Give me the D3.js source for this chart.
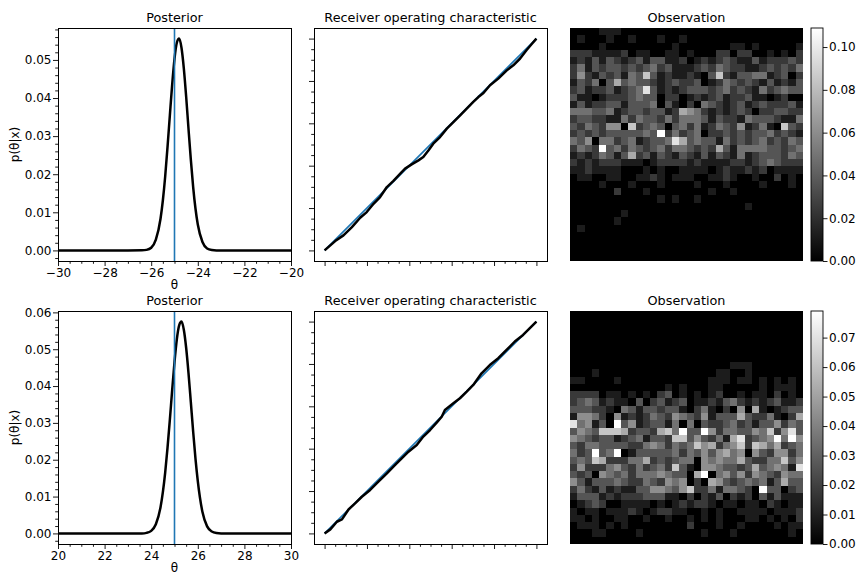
<!DOCTYPE html>
<html>
<head>
<meta charset="utf-8">
<script src="https://cdn.jsdelivr.net/npm/d3@7"></script>
<style>
    body { margin: 0; background: #fff; }
    svg text { font-family: "DejaVu Sans", sans-serif; fill: #000; }
    .tick text { font-size: 12px; }
    .tick line { stroke: #000; stroke-width: 0.9; }
</style>
</head>
<body>
<svg id="fig" width="856" height="575"></svg>
<script>
// ---- data ----

// posterior, top row
const postTopTheta = [-30, -27, -26.4, -26.2, -26.0, -25.8, -25.6, -25.5, -25.4, -25.3, -25.2, -25.1, -25.0, -24.9, -24.8,
    -24.7, -24.6, -24.5, -24.4, -24.3, -24.2, -24.1, -24.0, -23.8, -23.6, -23.4, -23.2, -20];
const postTopP = [0, 0, 0.00002, 0.00014, 0.0007, 0.0028, 0.0083, 0.0131, 0.0194, 0.0271, 0.0354, 0.0435, 0.0503, 0.0545, 0.0556,
    0.0532, 0.0478, 0.0404, 0.0320, 0.0239, 0.0167, 0.0110, 0.0068, 0.0022, 0.0005, 0.0001, 0, 0];
const truthTop = -25;
const postTopXTicks = [-30, -28, -26, -24, -22, -20];
const postTopYTicks = [0, 0.01, 0.02, 0.03, 0.04, 0.05];

// posterior, bottom row
const postBotTheta = [20, 23.6, 23.8, 24.0, 24.2, 24.4, 24.6, 24.7, 24.8, 24.9, 25.0, 25.1, 25.2, 25.3, 25.4, 25.5,
    25.6, 25.7, 25.8, 25.9, 26.0, 26.2, 26.4, 26.6, 26.8, 27.0, 30];
const postBotP = [0, 0, 0.00015, 0.0007, 0.0025, 0.0071, 0.0165, 0.0232, 0.0308, 0.0389, 0.0465, 0.0527, 0.0565, 0.0575, 0.0553, 0.0504,
    0.0436, 0.0357, 0.0277, 0.0203, 0.0142, 0.0058, 0.0019, 0.0005, 0.0001, 0, 0];
const truthBot = 25;
const postBotXTicks = [20, 22, 24, 26, 28, 30];
const postBotYTicks = [0, 0.01, 0.02, 0.03, 0.04, 0.05, 0.06];

// receiver operating characteristic
const rocTicks = [0, 0.2, 0.4, 0.6, 0.8, 1];
const rocDiag = [0, 1];
const rocTopFpr = [0, 0.027, 0.050, 0.089, 0.129, 0.168, 0.199, 0.231, 0.262, 0.294, 0.325, 0.364, 0.380, 0.411, 0.443, 0.466,
    0.490, 0.513, 0.545, 0.577, 0.608, 0.640, 0.671, 0.702, 0.726, 0.750, 0.781, 0.820, 0.860, 0.891, 0.923, 0.953, 0.976, 1];
const rocTopTpr = [0, 0.024, 0.044, 0.071, 0.110, 0.154, 0.181, 0.220, 0.252, 0.299, 0.328, 0.370, 0.386, 0.406, 0.425, 0.441,
    0.472, 0.504, 0.535, 0.575, 0.606, 0.638, 0.669, 0.701, 0.724, 0.743, 0.780, 0.811, 0.850, 0.874, 0.906, 0.945, 0.972, 1];
const rocBotFpr = [0, 0.027, 0.058, 0.082, 0.113, 0.144, 0.176, 0.215, 0.254, 0.294, 0.333, 0.364, 0.396, 0.435, 0.466, 0.498,
    0.529, 0.553, 0.568, 0.608, 0.639, 0.671, 0.702, 0.741, 0.780, 0.820, 0.859, 0.898, 0.937, 0.969, 1];
const rocBotTpr = [0, 0.019, 0.055, 0.066, 0.113, 0.142, 0.173, 0.205, 0.244, 0.283, 0.323, 0.354, 0.386, 0.417, 0.457, 0.488,
    0.523, 0.551, 0.583, 0.614, 0.638, 0.669, 0.701, 0.756, 0.795, 0.827, 0.866, 0.906, 0.937, 0.969, 1];

// observation, 32x32 cells, each digit is a level of obs*Step
const obsTopStep = 0.0121;
const obsTopRows = [
    "00001110 00000000 00000000 00000000",
    "01000100 10001001 00000000 00000000",
    "00001000 00000010 00000011 01000001",
    "22211112 01100110 10002202 20010102",
    "12131321 23133112 01212321 13122232",
    "24132332 32342311 12324322 11232324",
    "25213231 43731211 21037213 34412302",
    "13240363 43321232 23012432 32131213",
    "23122312 34831212 33323423 21423433",
    "31101222 34330220 12123122 31101200",
    "13122331 33340310 20432123 12322231",
    "44433412 33233126 54212123 20223322",
    "23322114 24332424 44313221 43332114",
    "32432550 72343034 24124325 12410732",
    "23232333 33439242 34022323 23342321",
    "43504423 41233486 34331423 23423243",
    "24329342 43234244 32326314 44433234",
    "12124313 62313213 21313214 12333243",
    "21212221 11012222 12111122 12343222",
    "11211110 00101001 11101211 21201111",
    "01100110 01121011 10011210 01002010",
    "00001000 10001000 01000100 00100010",
    "00000020 00100000 00010010 00000000",
    "00000000 00001010 01000000 00000000",
    "00000000 00000000 00000000 10000000",
    "00000001 00000000 00000000 00000000",
    "00000010 00000000 00000000 00000000",
    "01000000 00000000 00000000 00000000",
    "00000000 00000000 00000000 00000000",
    "00000000 00000000 00000000 00000000",
    "00000000 00000000 00000000 00000000",
    "00000000 00000000 00000000 00000000"
];
const cbarTopTicks = [0, 0.02, 0.04, 0.06, 0.08, 0.10];

const obsBotStep = 0.00878;
const obsBotRows = [
    "00000000 00000000 00000000 00000000",
    "00000000 00000000 00000000 00000000",
    "00000000 00000000 00000000 00000000",
    "00000000 00000000 00000000 00000000",
    "00000000 00000000 00000000 00000000",
    "00000000 00000000 00000000 00000000",
    "00000000 00000000 00000000 00000000",
    "00000000 00000000 00000011 10000000",
    "00010000 00000000 00001100 10000000",
    "11000010 00000000 00011101 10101010",
    "00000000 00000101 00011000 00101110",
    "22220110 10102301 01012001 01102010",
    "23431211 03023123 01121342 12123112",
    "33322104 31332331 02410205 06101233",
    "15542051 21243254 32513336 32241026",
    "84513093 51233140 40322342 31335243",
    "35437776 23326749 33952443 35472583",
    "54323312 34133277 35324168 23459495",
    "32443333 22454243 47562457 27646234",
    "42393490 13333342 43535645 05325524",
    "34376222 44623234 40545446 32244735",
    "25222453 24234273 10554332 36345418",
    "32305434 24445433 06904535 25432544",
    "53133343 22432545 02065323 43413633",
    "24213121 13355435 72241443 20933023",
    "13331212 22333110 20213021 20313111",
    "01232001 11101012 12210110 11021011",
    "10110111 21012211 00101001 11101112",
    "11010011 00100100 10101000 11010102",
    "01110101 00000000 20001001 00001011",
    "00011000 01000000 00100010 00000010",
    "00000000 00000000 00000000 00000000"
];
const cbarBotTicks = [0, 0.01, 0.02, 0.03, 0.04, 0.05, 0.06, 0.07];

// ---- layout ----
const size = 233;
const rowTop = [28, 311];
const colLeft = {post: 58, roc: 314, obs: 570, cbar: 811};
const cbarWidth = 12;
const blue = '#1f77b4';

const svg = d3.select('#fig');

// minor ticks between (and beyond) the majors, like AutoMinorLocator
function minorTicks(major, ndiv, domain) {
    const step = (major[1] - major[0]) / ndiv;
    const lo = Math.min(domain[0], domain[1]), hi = Math.max(domain[0], domain[1]);
    const out = [];
    for (let k = Math.ceil(lo / step - 1e-9); k * step <= hi + 1e-12; k++) {
        const v = k * step;
        if (v <= lo + 1e-9 || v >= hi - 1e-9) continue;
        if (major.some(m => Math.abs(m - v) < step / 10)) continue;
        out.push(v);
    }
    return out;
}

function frame(g) {
    g.append('rect')
        .attr('x', 0).attr('y', 0)
        .attr('width', size).attr('height', size)
        .attr('fill', 'none')
        .attr('stroke', '#000')
        .attr('stroke-width', 1)
        .attr('shape-rendering', 'crispEdges');
}

function title(g, text, x) {
    g.append('text')
        .attr('x', x).attr('y', -6.5)
        .attr('text-anchor', 'middle')
        .style('font-size', '12.8px')
        .text(text);
}

function clean(axisG) {
    axisG.select('.domain').remove();
    return axisG;
}

function drawPosterior(g, theta, p, truth, xTicks, yTicks) {
    const x = d3.scaleLinear().domain([xTicks[0], xTicks[xTicks.length - 1]]).range([0, size]);
    const pMax = d3.max(p);
    const y = d3.scaleLinear().domain([-0.05 * pMax, 1.05 * pMax]).range([size, 0]);

    const line = d3.line().x(d => x(d[0])).y(d => y(d[1])).curve(d3.curveMonotoneX);
    g.append('path')
        .datum(d3.zip(theta, p))
        .attr('d', line)
        .attr('fill', 'none')
        .attr('stroke', '#000')
        .attr('stroke-width', 2.5);

    g.append('line')
        .attr('x1', x(truth)).attr('x2', x(truth))
        .attr('y1', 0).attr('y2', size)
        .attr('stroke', blue)
        .attr('stroke-width', 1.6);

    clean(g.append('g').attr('transform', `translate(0,${size})`)
        .call(d3.axisBottom(x).tickValues(xTicks).tickFormat(d3.format('d')).tickSize(5).tickPadding(2.5)));
    clean(g.append('g').attr('transform', `translate(0,${size})`)
        .call(d3.axisBottom(x).tickValues(minorTicks(xTicks, 4, x.domain())).tickFormat('').tickSize(2.8)));
    clean(g.append('g')
        .call(d3.axisLeft(y).tickValues(yTicks).tickFormat(d3.format('.2f')).tickSize(5).tickPadding(1.5)));
    clean(g.append('g')
        .call(d3.axisLeft(y).tickValues(minorTicks(yTicks, 5, y.domain())).tickFormat('').tickSize(2.8)));

    frame(g);
    title(g, 'Posterior', size / 2);

    g.append('text')
        .attr('x', size / 2).attr('y', size + 27.5)
        .attr('text-anchor', 'middle')
        .style('font-size', '12px')
        .text('θ');
    g.append('text')
        .attr('transform', `translate(-39,${size / 2}) rotate(-90)`)
        .attr('text-anchor', 'middle')
        .style('font-size', '12px')
        .text('p(θ|x)');
}

function drawRoc(g, fpr, tpr) {
    const x = d3.scaleLinear().domain([-0.05, 1.05]).range([0, size]);
    const y = d3.scaleLinear().domain([-0.05, 1.05]).range([size, 0]);

    g.append('path')
        .datum(d3.zip(rocDiag, rocDiag))
        .attr('d', d3.line().x(d => x(d[0])).y(d => y(d[1])))
        .attr('stroke', blue)
        .attr('stroke-width', 1.6)
        .attr('fill', 'none');

    g.append('path')
        .datum(d3.zip(fpr, tpr))
        .attr('d', d3.line().x(d => x(d[0])).y(d => y(d[1])))
        .attr('stroke', '#000')
        .attr('stroke-width', 2.5)
        .attr('stroke-linejoin', 'round')
        .attr('fill', 'none');

    clean(g.append('g').attr('transform', `translate(0,${size})`)
        .call(d3.axisBottom(x).tickValues(rocTicks).tickFormat('').tickSize(5)));
    clean(g.append('g').attr('transform', `translate(0,${size})`)
        .call(d3.axisBottom(x).tickValues(minorTicks(rocTicks, 4, x.domain())).tickFormat('').tickSize(2.8)));
    clean(g.append('g')
        .call(d3.axisLeft(y).tickValues(rocTicks).tickFormat('').tickSize(5)));
    clean(g.append('g')
        .call(d3.axisLeft(y).tickValues(minorTicks(rocTicks, 4, y.domain())).tickFormat('').tickSize(2.8)));

    frame(g);
    title(g, 'Receiver operating characteristic', size / 2);
}

function drawObservation(g, cb, rows, step, cTicks, idx) {
    const grid = rows.map(s => s.replace(/ /g, '').split('').map(c => +c * step));
    const nRow = grid.length, nCol = grid[0].length;
    const cells = [];
    grid.forEach((r, i) => r.forEach((v, j) => cells.push({i, j, v})));
    const vMax = d3.max(cells, d => d.v);

    const x = d3.scaleBand().domain(d3.range(nCol)).range([0, size]);
    const y = d3.scaleBand().domain(d3.range(nRow)).range([0, size]);
    const color = d3.scaleLinear().domain([0, vMax]).range(['#000', '#fff']);

    // snap cell edges to whole pixels so the cells tile without seams
    const x0 = d => Math.round(x(d.j)), x1 = d => Math.round(x(d.j) + x.bandwidth());
    const y0 = d => Math.round(y(d.i)), y1 = d => Math.round(y(d.i) + y.bandwidth());

    g.selectAll('rect.cell')
        .data(cells)
        .join('rect')
        .attr('class', 'cell')
        .attr('x', x0)
        .attr('y', y0)
        .attr('width', d => x1(d) - x0(d))
        .attr('height', d => y1(d) - y0(d))
        .attr('fill', d => color(d.v))
        .attr('shape-rendering', 'crispEdges');

    title(g, 'Observation', size / 2);

    // colorbar
    const gradId = 'grad' + idx;
    const grad = svg.append('defs').append('linearGradient')
        .attr('id', gradId)
        .attr('x1', 0).attr('y1', 1).attr('x2', 0).attr('y2', 0);
    grad.append('stop').attr('offset', 0).attr('stop-color', '#000');
    grad.append('stop').attr('offset', 1).attr('stop-color', '#fff');

    const c = d3.scaleLinear().domain([0, vMax]).range([size, 0]);
    cb.append('rect')
        .attr('width', cbarWidth).attr('height', size)
        .attr('fill', `url(#${gradId})`)
        .attr('stroke', '#000')
        .attr('stroke-width', 0.9);
    clean(cb.append('g').attr('transform', `translate(${cbarWidth},0)`)
        .call(d3.axisRight(c).tickValues(cTicks).tickFormat(d3.format('.2f')).tickSize(4.5).tickPadding(1.5)));
}

// ---- render ----
const rowData = [
    {theta: postTopTheta, p: postTopP, truth: truthTop, xTicks: postTopXTicks, yTicks: postTopYTicks,
        fpr: rocTopFpr, tpr: rocTopTpr, obs: obsTopRows, step: obsTopStep, cTicks: cbarTopTicks},
    {theta: postBotTheta, p: postBotP, truth: truthBot, xTicks: postBotXTicks, yTicks: postBotYTicks,
        fpr: rocBotFpr, tpr: rocBotTpr, obs: obsBotRows, step: obsBotStep, cTicks: cbarBotTicks}
];

rowData.forEach((d, i) => {
    const top = rowTop[i];
    drawPosterior(svg.append('g').attr('transform', `translate(${colLeft.post},${top})`),
        d.theta, d.p, d.truth, d.xTicks, d.yTicks);
    drawRoc(svg.append('g').attr('transform', `translate(${colLeft.roc},${top})`), d.fpr, d.tpr);
    drawObservation(svg.append('g').attr('transform', `translate(${colLeft.obs},${top})`),
        svg.append('g').attr('transform', `translate(${colLeft.cbar},${top})`),
        d.obs, d.step, d.cTicks, i);
});
</script>
</body>
</html>
